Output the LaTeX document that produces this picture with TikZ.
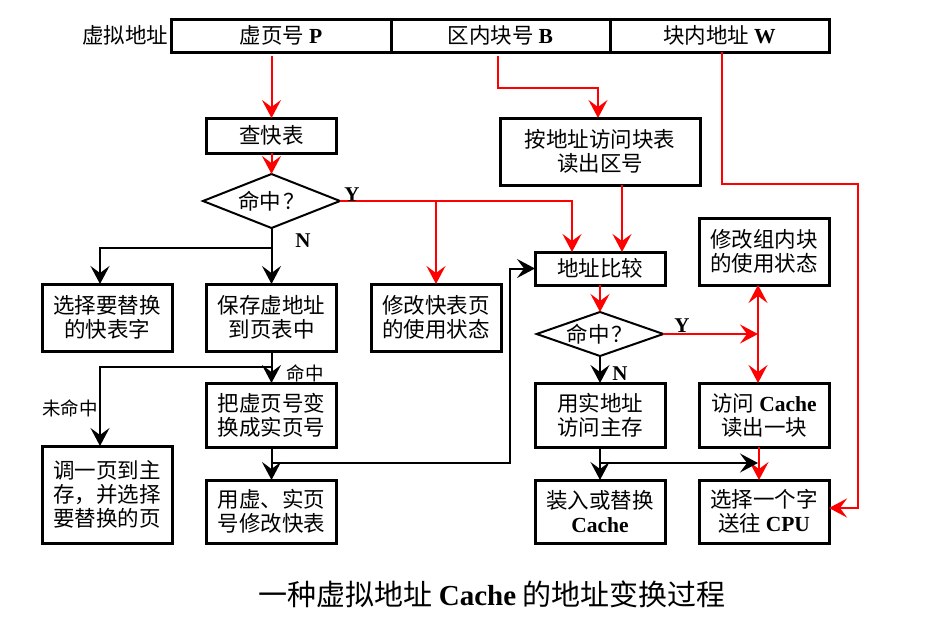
\documentclass[tikz,border=0pt]{standalone}
\usepackage{fontspec}
\setmainfont{Liberation Serif}
\newfontfamily\cjk{Noto Sans CJK SC}
\usetikzlibrary{arrows.meta,shapes.geometric}
\newcommand\lat[1]{{\rmfamily\bfseries #1}}
\begin{document}
\begin{tikzpicture}[x=1pt,y=-1pt,
  every node/.style={inner sep=0pt, outer sep=0pt},
  txt/.style={font=\cjk\fontsize{21.5}{24}\selectfont, align=center},
  box/.style={txt, draw, line width=3pt, minimum width=130pt},
  cell/.style={txt, draw, line width=3pt, minimum height=33pt},
  dia/.style={txt, draw, diamond, aspect=3, line width=2pt, minimum width=137pt, minimum height=54pt},
  conn/.style={line width=2pt, -{Stealth[length=18pt,width=19pt,inset=7pt]}},
  rconn/.style={conn, red},
  yl/.style={font=\fontsize{21}{21}\selectfont\bfseries},
  sl/.style={font=\cjk\fontsize{18.5}{18.5}\selectfont}
]
\useasboundingbox (0,0) rectangle (946,637);

% address bar
\node[cell, minimum width=220pt] (cP) at (281,35.5) {虚页号 \lat{P}};
\node[cell, minimum width=219pt] (cB) at (500.5,35.5) {区内块号 \lat{B}};
\node[cell, minimum width=219pt] (cW) at (719.5,35.5) {块内地址 \lat{W}};
\node[txt, anchor=east] (va) at (168,35) {虚拟地址};

% boxes
\node[box, minimum height=35pt] (cha) at (271.5,135.5) {查快表};
\node[dia] (d1) at (271.5,201) {命中\hspace{2pt}？};
\node[box, minimum width=200pt, minimum height=67pt] (an) at (600,151.5) {按地址访问块表\\读出区号};
\node[box, minimum height=33pt] (cmp) at (600,268.5) {地址比较};
\node[box, minimum height=67pt] (mblk) at (764,251.5) {修改组内块\\的使用状态};
\node[box, minimum height=67pt] (sel) at (107,317.5) {选择要替换\\的快表字};
\node[box, minimum height=67pt] (save) at (271.5,317.5) {保存虚地址\\到页表中};
\node[box, minimum height=67pt] (mod) at (436,317.5) {修改快表页\\的使用状态};
\node[dia, minimum width=125pt, minimum height=44pt] (d2) at (600,334) {命中\hspace{2pt}？};
\node[box, minimum height=64pt] (conv) at (271.5,415) {把虚页号变\\换成实页号};
\node[box, minimum height=64pt] (mem) at (600,415) {用实地址\\访问主存};
\node[box, minimum height=64pt] (acc) at (764,415) {访问 \lat{Cache}\\读出一块};
\node[box, minimum height=97pt] (page) at (107,494.5) {调一页到主\\存，并选择\\要替换的页};
\node[box, minimum height=63pt] (upd) at (271.5,511.5) {用虚、实页\\号修改快表};
\node[box, minimum height=63pt] (load) at (600,511.5) {装入或替换\\\lat{Cache}};
\node[box, minimum height=63pt] (selw) at (764,511.5) {选择一个字\\送往 \lat{CPU}};

% red connectors
\draw[rconn, shorten <=4pt] (cP.south -| cha.north) -- (cha.north);
\draw[rconn] (cha.south) -- (d1.north);
\draw[rconn] (d1.east) -| ([xshift=-28pt]cmp.north);
\draw[rconn] (d1.east -| mod.north) -- (mod.north);
\draw[rconn, shorten <=4pt] ([xshift=-2.5pt]cB.south) -- ++(0,36) -| ([xshift=-2pt]an.north);
\draw[rconn] ([xshift=22pt]an.south) -- ([xshift=22pt]cmp.north);
\draw[rconn] (cmp.south) -- (d2.north);
\coordinate (jr) at ([xshift=-6pt]acc.north |- d2.east);
\draw[rconn] (d2.east) -- (jr);
\draw[rconn] (jr) -- ([xshift=-6pt]mblk.south);
\draw[rconn] (jr) -- ([xshift=-6pt]acc.north);
\draw[rconn] ([xshift=-5pt]acc.south) -- ([xshift=-5pt]selw.north);
\coordinate (wr) at (858,184);
\draw[rconn] ([xshift=2.5pt]cW.south) |- (wr) |- ([yshift=3.5pt]selw.east);

% black connectors
\coordinate (j1) at (d1.south |- 0,248);
\draw[conn] (d1.south) -- (save.north);
\draw[conn] (j1) -| ([xshift=-7pt]sel.north);
\draw[conn] (save.south) -- (conv.north);
\coordinate (j2) at (save.south |- 0,367);
\draw[conn] (j2) -| ([xshift=-7pt]page.north);
\draw[conn] (conv.south) -- (upd.north);
\coordinate (j3) at (conv.south |- 0,463);
\coordinate (j4) at (510,463);
\draw[conn] (j3) -- (j4) |- (cmp.west);
\draw[conn] (d2.south) -- (mem.north);
\draw[conn] (mem.south) -- (load.north);
\coordinate (j5) at (mem.south |- 0,463);
\coordinate (j6) at ([xshift=-6pt]acc.south |- j5);
\draw[conn] (j5) -- (j6);

% labels
\node[yl] (y1) at (352,195) {Y};
\node[yl] (n1) at (303,241) {N};
\node[yl] (y2) at (682,326) {Y};
\node[yl] (n2) at (620,374) {N};
\node[sl] (hit) at (305,373) {命中};
\node[sl] (miss) at (70,408) {未命中};
\node[font=\cjk\fontsize{29}{29}\selectfont] (cap) at (492,594) {一种虚拟地址 \lat{Cache} 的地址变换过程};
\end{tikzpicture}
\end{document}
